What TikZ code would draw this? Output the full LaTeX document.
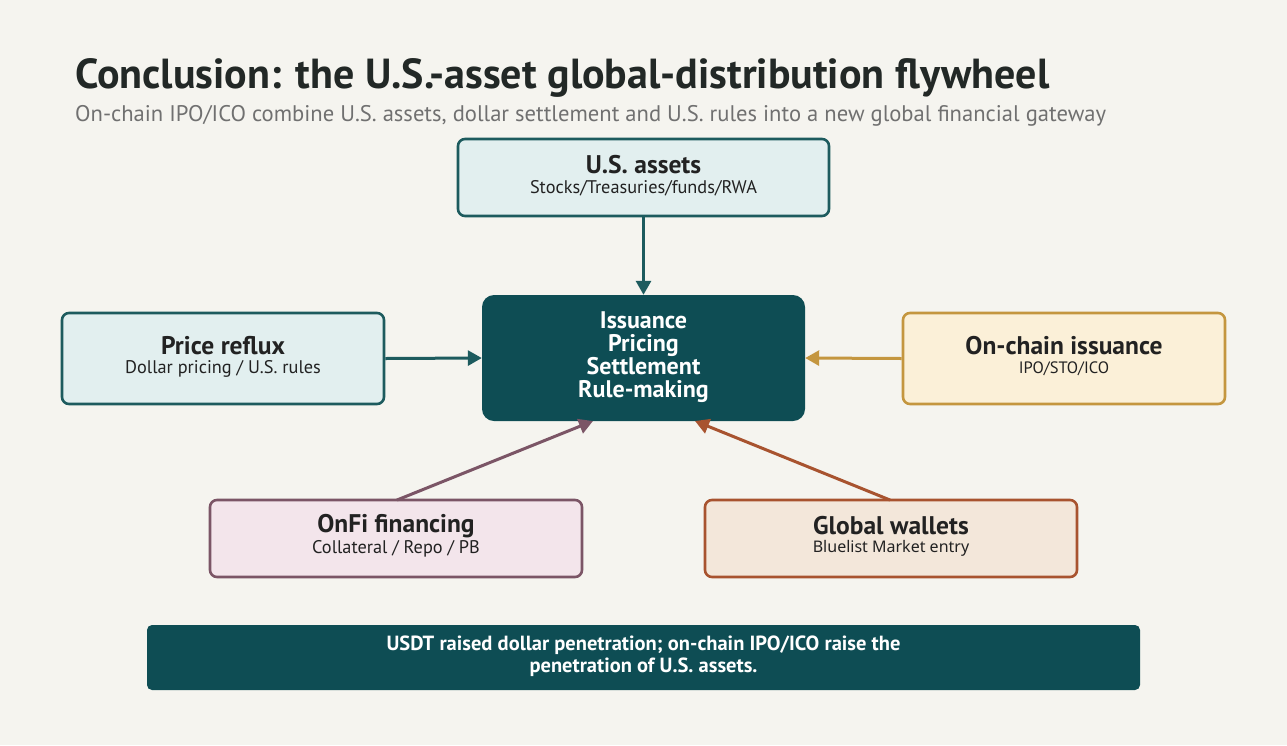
\documentclass[tikz,border=0pt]{standalone}
\usepackage{fontspec}
\setmainfont{PT Sans}
\newfontfamily\notofont{Noto Sans}
\usetikzlibrary{arrows.meta}
\definecolor{bg}{HTML}{F5F4EF}
\definecolor{tealdark}{HTML}{0E4D54}
\definecolor{tealline}{HTML}{1D5B5E}
\definecolor{tealfill}{HTML}{E2EFEF}
\definecolor{goldline}{HTML}{C4963F}
\definecolor{goldfill}{HTML}{FBF0D8}
\definecolor{mauveline}{HTML}{7B5566}
\definecolor{mauvefill}{HTML}{F3E5EB}
\definecolor{rustline}{HTML}{A8532F}
\definecolor{rustfill}{HTML}{F3E7DA}
\definecolor{titlecol}{HTML}{222826}
\definecolor{subcol}{HTML}{707070}
\definecolor{boxtext}{HTML}{222222}
\tikzset{
  card/.style={draw, line width=2.6pt, rounded corners=7pt, inner sep=0pt},
  cardtitle/.style={font=\bfseries\fontsize{25.5}{28}\selectfont, text=boxtext, inner sep=0pt},
  cardsub/.style={font=\fontsize{18.3}{21}\selectfont, text=boxtext, inner sep=0pt},
  flow/.style={line width=3pt, -{Triangle[length=14pt,width=15pt]}},
}
\begin{document}
\begin{tikzpicture}[x=1pt,y=-1pt]
\fill[bg] (0,0) rectangle (1287,745);
\useasboundingbox (0,0) rectangle (1287,745);
% title
\node[anchor=base west, inner sep=0pt, text=titlecol, font=\bfseries\fontsize{42}{48}\selectfont] (title) at (75,88) {Conclusion: the U.S.-asset global-distribution flywheel};
\node[anchor=base west, inner sep=0pt, text=subcol, font=\fontsize{22.6}{26}\selectfont] (subtitle) at (75,121) {On-chain IPO/ICO combine U.S. assets, dollar settlement and U.S. rules into a new global financial gateway};
% boxes
\node[card, draw=tealline, fill=tealfill, minimum width=371pt, minimum height=77pt] (usa) at (643.5,177.5) {};
\node[cardtitle] (usat) at (643.5,165) {U.S. assets};
\node[cardsub] (usas) at (643.5,188) {Stocks/Treasuries/funds/RWA};
\node[fill=tealdark, rounded corners=12pt, minimum width=323pt, minimum height=126pt, inner sep=0pt] (core) at (643.5,358) {};
\node[font=\bfseries\fontsize{24}{23}\selectfont, text=white, align=center, inner sep=0pt] (coretext) at (643.5,357) {Issuance\\Pricing\\Settlement\\Rule-making};
\node[card, draw=tealline, fill=tealfill, minimum width=322pt, minimum height=91pt] (price) at (223,358.5) {};
\node[cardtitle] (pricet) at (223,346) {Price reflux};
\node[cardsub] (prices) at (223,369) {Dollar pricing / U.S. rules};
\node[card, draw=goldline, fill=goldfill, minimum width=322pt, minimum height=91pt] (chain) at (1064,358.5) {};
\node[cardtitle] (chaint) at (1064,346) {On-chain issuance};
\node[cardsub, font=\fontsize{16.5}{20}\selectfont] (chains) at (1064,369) {IPO/STO/ICO};
\node[card, draw=mauveline, fill=mauvefill, minimum width=372pt, minimum height=77pt] (onfi) at (396,538.5) {};
\node[cardtitle] (onfit) at (396,526) {OnFi financing};
\node[cardsub] (onfis) at (396,549) {Collateral / Repo / PB};
\node[card, draw=rustline, fill=rustfill, minimum width=372pt, minimum height=77pt] (wallet) at (891,538.5) {};
\node[cardtitle] (wallett) at (891,526) {Global wallets};
\node[cardsub, font=\notofont\fontsize{16}{19}\selectfont] (wallets) at (891,548) {Bluelist Market entry};
\node[fill=tealdark, rounded corners=5pt, minimum width=993pt, minimum height=65pt, inner sep=0pt] (bar) at (643.5,657.5) {};
\node[font=\bfseries\fontsize{20.5}{21.5}\selectfont, text=white, align=center, inner sep=0pt] (bartext) at (643.5,656) {USDT raised dollar penetration; on-chain IPO/ICO raise the\\penetration of U.S. assets.};
% arrows
\draw[flow, tealline] (usa.south) -- (core.north);
\draw[flow, tealline] (price.east) -- (core.west);
\draw[flow, goldline] (chain.west) -- (core.east);
\coordinate (onfitop) at (397,500);
\coordinate (coreA) at (593,421);
\draw[flow, mauveline] (onfitop) -- (coreA);
\coordinate (wallettop) at (890,500);
\coordinate (coreB) at (695,421);
\draw[flow, rustline] (wallettop) -- (coreB);
\end{tikzpicture}
\end{document}
